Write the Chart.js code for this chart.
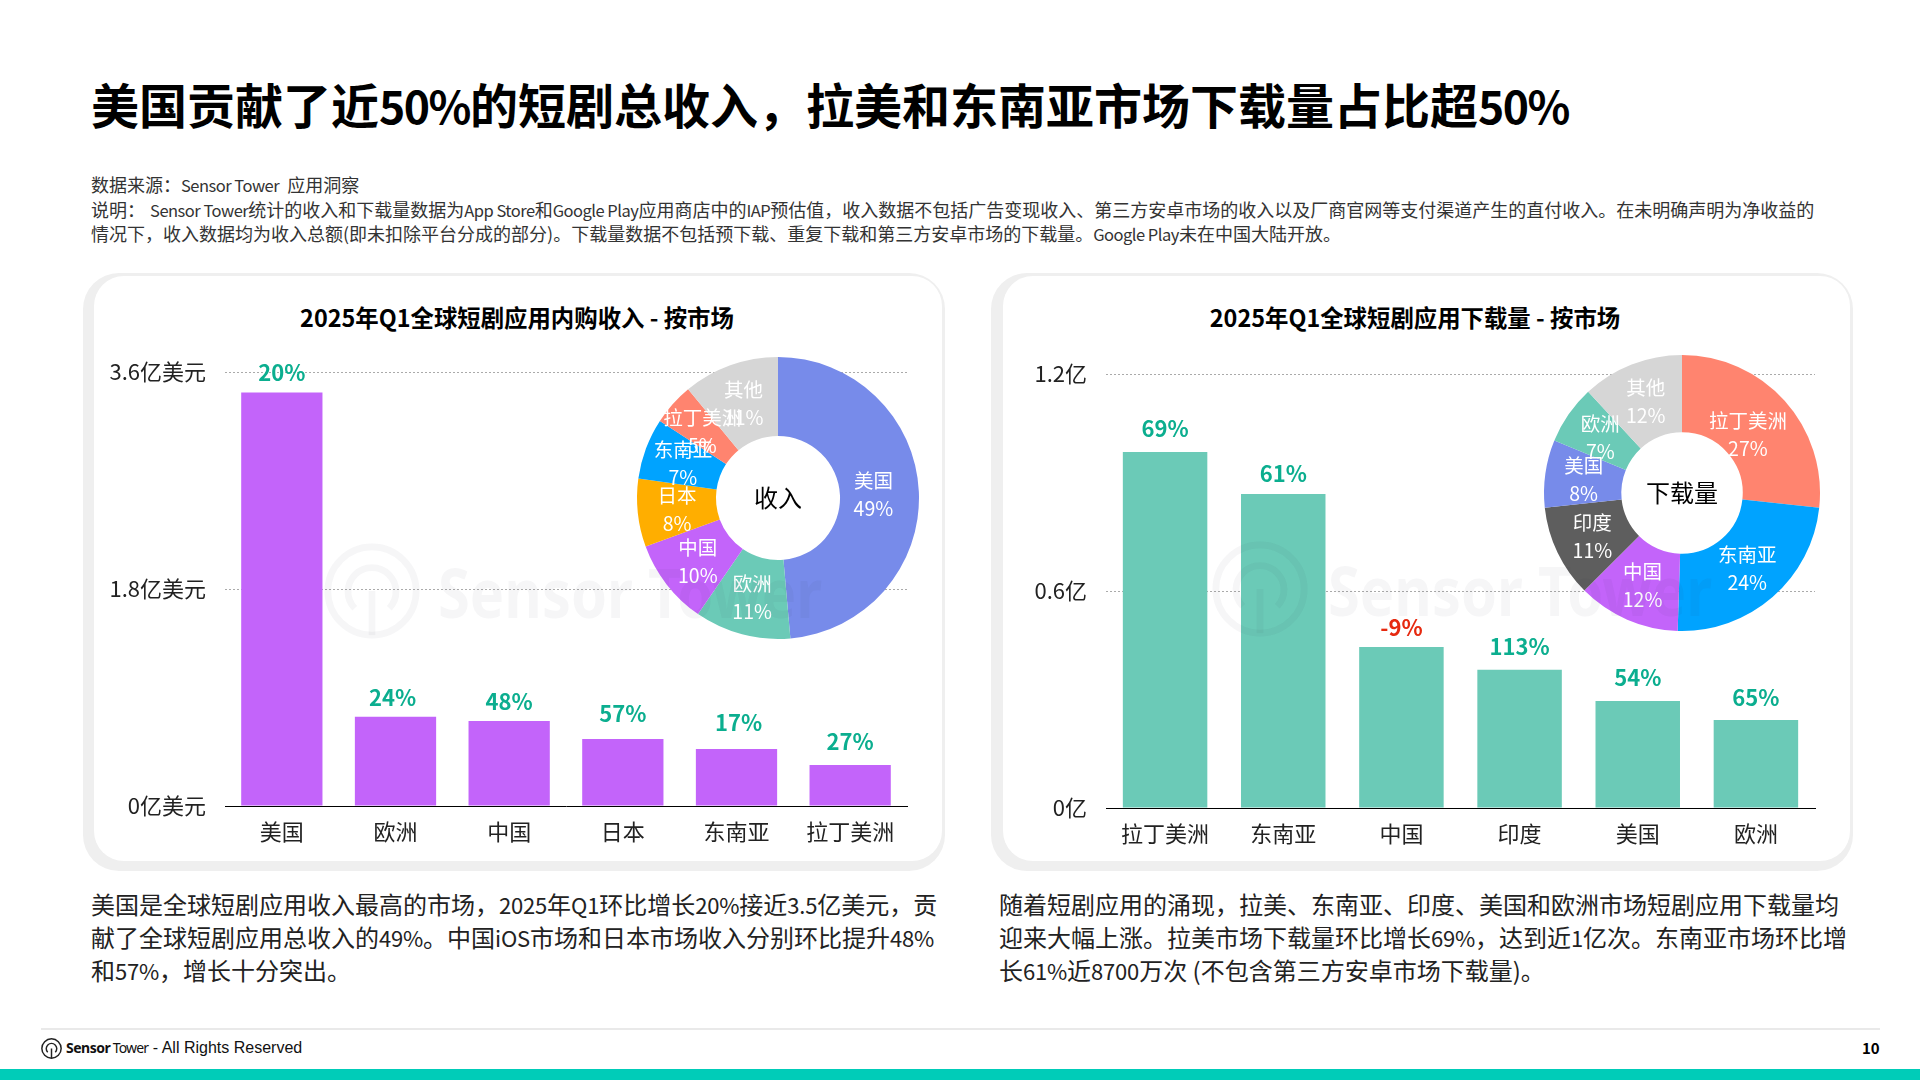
<!DOCTYPE html>
<html lang="zh">
<head>
<meta charset="utf-8">
<title>短剧应用市场</title>
<script src="https://cdn.jsdelivr.net/npm/chart.js"></script>
<style>
  html, body { margin: 0; padding: 0; background: #fff; }
  body { width: 1920px; height: 1080px; position: relative; overflow: hidden; font-family: "Noto Sans CJK SC", "Noto Sans", sans-serif; color: #000; }
  .abs { position: absolute; white-space: nowrap; }
  #title { left: 91px; top: 69px; font-size: 48px; line-height: 68px; font-weight: 700; }
  #title span { font-size: 44.5px; letter-spacing: -1.5px; line-height: 1; }
  .note { left: 91px; font-size: 18px; line-height: 24px; color: #333; }
  .note span { font-size: 16.5px; letter-spacing: -0.5px; line-height: 1; }
  .panel-back { position: absolute; top: 273px; height: 598px; background: #efefef; border-radius: 36px; }
  .panel { position: absolute; top: 276px; height: 585px; background: #fff; border-radius: 30px; }
  canvas { position: absolute; }
  .chart-title { top: 302px; font-size: 23.4px; line-height: 30px; font-weight: 700; transform: translateX(-50%); }
  .body-text { font-size: 24px; line-height: 33px; top: 887px; color: #222; }
  .body-text span { font-size: 22px; letter-spacing: -0.2px; line-height: 1; }
  .mark { position: absolute; pointer-events: none; color: rgba(40,40,60,0.045); }
  .mark-text { position: absolute; font-family: "Noto Sans", sans-serif; font-weight: 700; font-size: 68px; line-height: 80px; transform: scaleX(0.85); transform-origin: left center; white-space: nowrap; color: rgba(40,40,60,0.045); pointer-events: none; }
  #foot-line { position: absolute; left: 41px; top: 1028px; width: 1839px; height: 2px; background: #e9e9e9; }
  #foot-bar { position: absolute; left: 0; top: 1069px; width: 1920px; height: 11px; background: #00ccb8; }
  #foot-text { left: 66px; top: 1037px; font-size: 16px; line-height: 22px; font-family: "Liberation Sans", sans-serif; color: #111; }
  #foot-text b { font-family: "Noto Sans", sans-serif; font-weight: 700; font-size: 14px; letter-spacing: -0.5px; }
  #foot-text span { font-family: "Noto Sans", sans-serif; font-size: 14px; letter-spacing: -0.8px; margin-left: -2px; }
  #page-no { left: 1862px; top: 1037px; font-size: 15px; line-height: 22px; font-weight: 700; }
</style>
</head>
<body>
<svg width="0" height="0" style="position:absolute">
  <symbol id="st-logo" viewBox="0 0 100 100">
    <circle cx="50" cy="50" r="46" fill="none" stroke="currentColor" stroke-width="7"/>
    <path d="M32 68 A25 25 0 1 1 68 68" fill="none" stroke="currentColor" stroke-width="7"/>
    <path d="M50 50 V96" fill="none" stroke="currentColor" stroke-width="7"/>
  </symbol>
</svg>

<div id="title" class="abs">美国贡献了近<span>50%</span>的短剧总收入，拉美和东南亚市场下载量占比超<span>50%</span></div>
<div class="abs note" style="top:172px">数据来源：<span>Sensor Tower</span>&nbsp; 应用洞察</div>
<div class="abs note" style="top:197px">说明：&nbsp; <span style="margin-left:-3px">Sensor Tower</span>统计的收入和下载量数据为<span>App Store</span>和<span>Google Play</span>应用商店中的<span>IAP</span>预估值，收入数据不包括广告变现收入、第三方安卓市场的收入以及厂商官网等支付渠道产生的直付收入。在未明确声明为净收益的<br>情况下，收入数据均为收入总额(即未扣除平台分成的部分)。下载量数据不包括预下载、重复下载和第三方安卓市场的下载量。<span>Google Play</span>未在中国大陆开放。</div>

<div class="panel-back" style="left:83px;width:862px"></div>
<div class="panel" style="left:94px;width:848px"></div>
<div class="panel-back" style="left:991px;width:862px"></div>
<div class="panel" style="left:1003px;width:847px"></div>

<div class="abs chart-title" style="left:517px">2025年Q1全球短剧应用内购收入 - 按市场</div>
<div class="abs chart-title" style="left:1415px">2025年Q1全球短剧应用下载量 - 按市场</div>

<canvas id="rev-bar" width="834" height="560" style="left:100px;top:300px"></canvas>
<canvas id="rev-pie" width="290" height="290" style="left:633px;top:353px"></canvas>
<canvas id="dl-bar" width="830" height="562" style="left:1000px;top:300px"></canvas>
<canvas id="dl-pie" width="284" height="284" style="left:1540px;top:351px"></canvas>

<svg class="mark" style="left:324px;top:543px" width="96" height="96"><use href="#st-logo"/></svg>
<div class="mark-text" style="left:438px;top:552px">Sensor Tower</div>
<svg class="mark" style="left:1212px;top:541px" width="96" height="96"><use href="#st-logo"/></svg>
<div class="mark-text" style="left:1328px;top:550px">Sensor Tower</div>

<div class="abs body-text" style="left:91px">美国是全球短剧应用收入最高的市场，<span>2025</span>年<span>Q1</span>环比增长<span>20%</span>接近<span>3.5</span>亿美元，贡<br>献了全球短剧应用总收入的<span>49%</span>。中国<span>iOS</span>市场和日本市场收入分别环比提升<span>48%</span><br>和<span>57%</span>，增长十分突出。</div>
<div class="abs body-text" style="left:999px">随着短剧应用的涌现，拉美、东南亚、印度、美国和欧洲市场短剧应用下载量均<br>迎来大幅上涨。拉美市场下载量环比增长<span>69%</span>，达到近<span>1</span>亿次。东南亚市场环比增<br>长<span>61%</span>近<span>8700</span>万次 (不包含第三方安卓市场下载量)。</div>

<div id="foot-line"></div>
<svg style="position:absolute;left:41px;top:1038px;color:#222" width="21" height="21"><use href="#st-logo"/></svg>
<div id="foot-text" class="abs"><b>Sensor</b> <span>Tower</span> - All Rights Reserved</div>
<div id="page-no" class="abs">10</div>
<div id="foot-bar"></div>

<script>
const FONT = '"Noto Sans CJK SC", "Noto Sans", sans-serif';

// 收入 - 柱状图
const revMarkets = ['美国', '欧洲', '中国', '日本', '东南亚', '拉丁美洲'];
const revValues = [3.43, 0.74, 0.705, 0.556, 0.473, 0.34];
const revGrowth = ['20%', '24%', '48%', '57%', '17%', '27%'];
const revTicks = ['0亿美元', '1.8亿美元', '3.6亿美元'];

// 收入 - 环形图
const revShareNames = ['美国', '欧洲', '中国', '日本', '东南亚', '拉丁美洲', '其他'];
const revShareValues = [48.6, 11, 9.8, 7.8, 7, 4.8, 11];
const revShareLabels = ['49%', '11%', '10%', '8%', '7%', '5%', '11%'];

// 下载量 - 柱状图
const dlMarkets = ['拉丁美洲', '东南亚', '中国', '印度', '美国', '欧洲'];
const dlValues = [0.984, 0.868, 0.445, 0.382, 0.296, 0.243];
const dlGrowth = ['69%', '61%', '-9%', '113%', '54%', '65%'];
const dlTicks = ['0亿', '0.6亿', '1.2亿'];

// 下载量 - 环形图
const dlShareNames = ['拉丁美洲', '东南亚', '中国', '印度', '美国', '欧洲', '其他'];
const dlShareValues = [26.7, 23.8, 12, 10.8, 7.9, 6.9, 11.9];
const dlShareLabels = ['27%', '24%', '12%', '11%', '8%', '7%', '12%'];

// 市场颜色
const marketColors = {
    '美国': '#778bea', '欧洲': '#6bcab7', '中国': '#c364fa', '日本': '#ffae00',
    '东南亚': '#00a3ff', '拉丁美洲': '#ff846f', '印度': '#5e5e5e', '其他': '#d6d6d6'
};

// 柱顶的环比标签 (原图里每个标签离柱顶的距离不太一样)
const growthLabels = {
    id: 'growthLabels',
    afterDatasetsDraw(chart, args, opts) {
        const ctx = chart.ctx;
        ctx.save();
        ctx.font = '700 22px ' + FONT;
        ctx.textAlign = 'center';
        ctx.textBaseline = 'middle';
        chart.getDatasetMeta(0).data.forEach((bar, i) => {
            ctx.fillStyle = opts.labels[i].startsWith('-') ? '#e6290f' : '#0bae8f';
            ctx.fillText(opts.labels[i], bar.x + opts.nudge[i], bar.y - opts.gaps[i]);
        });
        ctx.restore();
    }
};

// 环形图上的名称 + 百分比, 还有中间的文字
const sliceLabels = {
    id: 'sliceLabels',
    afterDatasetsDraw(chart, args, opts) {
        const ctx = chart.ctx;
        const names = chart.data.labels;
        ctx.save();
        ctx.font = '19.5px ' + FONT;
        ctx.textAlign = 'center';
        ctx.textBaseline = 'middle';
        ctx.fillStyle = '#fff';
        const arcs = chart.getDatasetMeta(0).data;
        arcs.forEach((arc, i) => {
            const p = arc.getCenterPoint();
            const nudge = (opts.nudge[i] || [0, 0]);
            ctx.fillText(names[i], p.x + nudge[0], p.y - 13 + nudge[1]);
            ctx.fillText(opts.labels[i], p.x + nudge[0], p.y + 15 + nudge[1]);
        });
        ctx.font = '24px ' + FONT;
        ctx.fillStyle = '#000';
        ctx.fillText(opts.center, arcs[0].x, arcs[0].y);
        ctx.restore();
    }
};

function createBarChart(id, cfg) {
    return new Chart(document.getElementById(id), {
        type: 'bar',
        data: {
            labels: cfg.names,
            datasets: [{ data: cfg.values, backgroundColor: cfg.color, barPercentage: 0.715, categoryPercentage: 1 }]
        },
        options: {
            responsive: false, animation: false,
            layout: { padding: { top: cfg.top, right: cfg.right } },
            scales: {
                x: {
                    grid: { display: false },
                    border: { display: true, color: '#000', width: 1 },
                    ticks: { color: '#222', font: { family: FONT, size: 22 }, padding: 4, maxRotation: 0 },
                    afterFit: s => { s.height = 54; }
                },
                y: {
                    min: 0, max: cfg.max,
                    grid: { drawTicks: false, color: ctx => ctx.tick.value === 0 ? 'transparent' : '#aaa', lineWidth: 1 },
                    border: { display: false, dash: [2, 2] },
                    ticks: {
                        stepSize: cfg.max / 2, padding: 19, color: '#222', font: { family: FONT, size: 22 },
                        callback: (v, i) => cfg.ticks[i]
                    },
                    afterFit: s => { s.width = cfg.axisWidth; }
                }
            },
            plugins: {
                legend: { display: false },
                tooltip: { enabled: false },
                growthLabels: { labels: cfg.growth, gaps: cfg.gaps, nudge: cfg.nudge }
            }
        },
        plugins: [growthLabels]
    });
}

function createPieChart(id, names, values, labels, center, nudge) {
    return new Chart(document.getElementById(id), {
        type: 'doughnut',
        data: {
            labels: names,
            datasets: [{ data: values, backgroundColor: names.map(n => marketColors[n]), borderWidth: 0 }]
        },
        options: {
            responsive: false, animation: false, cutout: '44%',
            layout: { padding: 4 },
            plugins: {
                legend: { display: false },
                tooltip: { enabled: false },
                sliceLabels: { labels: labels, center: center, nudge: nudge }
            }
        },
        plugins: [sliceLabels]
    });
}

createBarChart('rev-bar', {
    names: revMarkets, values: revValues, growth: revGrowth, ticks: revTicks, max: 3.6,
    color: marketColors['中国'], axisWidth: 125, right: 27, top: 72,
    gaps: [20, 19, 19, 25, 26, 23], nudge: [0, -3, 0, 0, 2, 0]
});
createPieChart('rev-pie', revShareNames, revShareValues, revShareLabels, '收入', [[-6, 0]]);

createBarChart('dl-bar', {
    names: dlMarkets, values: dlValues, growth: dlGrowth, ticks: dlTicks, max: 1.2,
    color: marketColors['欧洲'], axisWidth: 106, right: 15, top: 74,
    gaps: [23, 20, 19.5, 23, 23, 22], nudge: [0, 0, 0, 0, 0, 0]
});
createPieChart('dl-pie', dlShareNames, dlShareValues, dlShareLabels, '下载量', [[-8, 7]]);
</script>
</body>
</html>
